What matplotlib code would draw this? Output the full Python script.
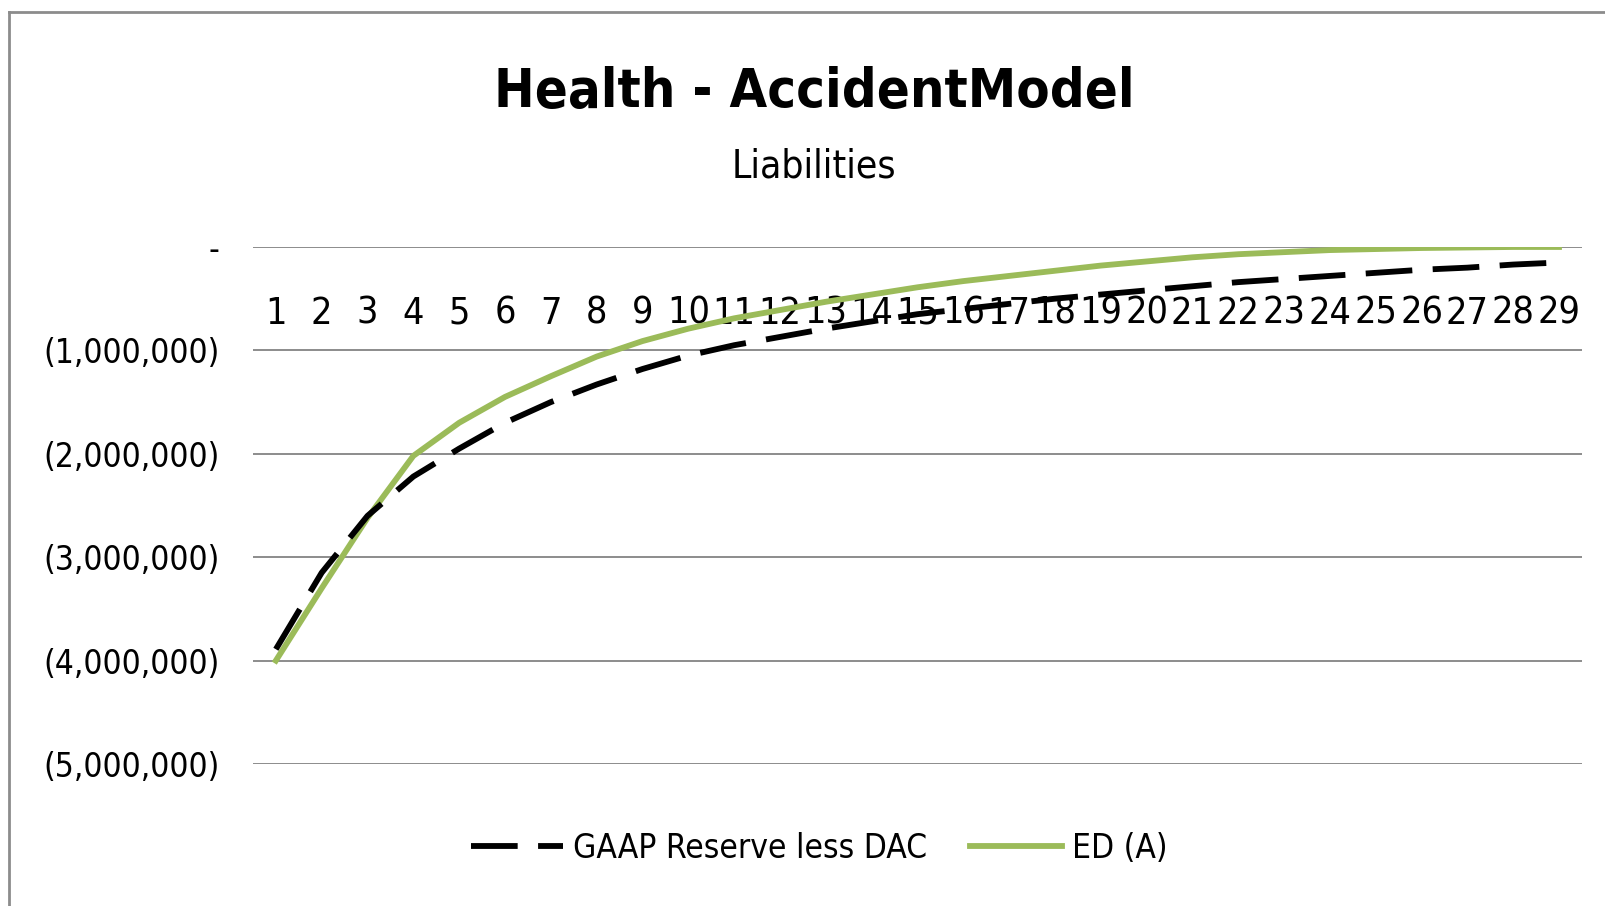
import matplotlib.pyplot as plt
from matplotlib.lines import Line2D
from matplotlib.ticker import FuncFormatter

# projection years and liability runoff (negative = liability)
years = list(range(1, 30))
gaap_reserve_less_dac = [
    -3.89e6, -3.15e6, -2.60e6, -2.22e6, -1.95e6, -1.70e6, -1.50e6, -1.33e6,
    -1.18e6, -1.05e6, -0.95e6, -0.87e6, -0.79e6, -0.72e6, -0.65e6, -0.60e6,
    -0.55e6, -0.50e6, -0.46e6, -0.42e6, -0.38e6, -0.34e6, -0.31e6, -0.28e6,
    -0.25e6, -0.22e6, -0.20e6, -0.17e6, -0.15e6,
]
ed_a = [
    -4.00e6, -3.30e6, -2.62e6, -2.02e6, -1.70e6, -1.45e6, -1.25e6, -1.06e6,
    -0.91e6, -0.79e6, -0.69e6, -0.61e6, -0.53e6, -0.46e6, -0.39e6, -0.33e6,
    -0.28e6, -0.23e6, -0.18e6, -0.14e6, -0.10e6, -0.07e6, -0.05e6, -0.03e6,
    -0.02e6, -0.01e6, -0.005e6, 0.0, 0.0,
]
yticks = [0, -1e6, -2e6, -3e6, -4e6, -5e6]

plt.rcParams['font.family'] = ['DejaVu Sans']
plt.rcParams['font.stretch'] = 'condensed'

fig = plt.figure(figsize=(16.06, 9.06), dpi=100)
ax = fig.add_axes([0.1575, 0.1567, 0.8275, 0.5707])

ax.plot(years, gaap_reserve_less_dac, color='black', lw=4.2,
        linestyle=(0, (8, 3.5)), label='GAAP Reserve less DAC', zorder=4)
ax.plot(years, ed_a, color='#9BBB59', lw=4.2, label='ED (A)', zorder=3)

ax.set_xlim(0.5, 29.5)
ax.set_ylim(-5e6, 0)
ax.set_yticks(yticks)
ax.yaxis.set_major_formatter(FuncFormatter(
    lambda v, p: '-' if v == 0 else '({:,.0f})'.format(abs(v))))
ax.set_xticks(years)
ax.set_xticklabels([str(y) for y in years])
ax.grid(axis='y', color='#8c8c8c', lw=1.4)
ax.set_axisbelow(True)
for s in ax.spines.values():
    s.set_visible(False)
ax.tick_params(axis='y', length=0, labelsize=24, pad=24)

# category labels sit just under the zero line
ax.xaxis.tick_top()
for lbl in ax.get_xticklabels():
    lbl.set_verticalalignment('top')
ax.tick_params(axis='x', length=0, labelsize=27, pad=-35)

fig.text(0.507, 0.898, 'Health - AccidentModel', ha='center', va='center',
         fontsize=39, fontweight='bold')
fig.text(0.507, 0.816, 'Liabilities', ha='center', va='center', fontsize=28)

fig.legend(loc='center', bbox_to_anchor=(0.51, 0.064), ncol=2,
           frameon=False, fontsize=24, handlelength=2.75,
           columnspacing=1.3, handletextpad=0.3)

# chart area border (left and top edges)
fig.add_artist(Line2D([9 / 1606, 9 / 1606], [0, 1 - 12 / 906],
                      transform=fig.transFigure, color='#8c8c8c', lw=2))
fig.add_artist(Line2D([9 / 1606, 1], [1 - 12 / 906, 1 - 12 / 906],
                      transform=fig.transFigure, color='#8c8c8c', lw=2))

fig.savefig('out.png', dpi=100, facecolor='white')
